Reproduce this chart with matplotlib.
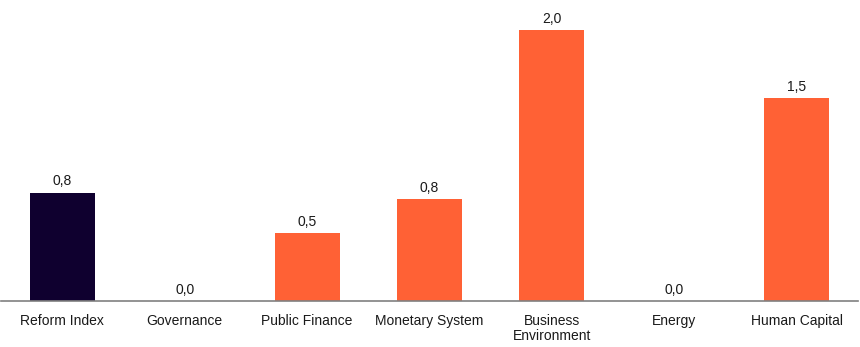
import matplotlib
matplotlib.use("Agg")
import matplotlib.pyplot as plt

categories = ["Reform Index", "Governance", "Public Finance", "Monetary System",
              "Business\nEnvironment", "Energy", "Human Capital"]
values = [0.8, 0.0, 0.5, 0.75, 2.0, 0.0, 1.5]

NAVY = "#0F002F"
ORANGE = "#FF6135"
colors = [NAVY] + [ORANGE] * (len(values) - 1)

plt.rcParams["font.family"] = ["Liberation Sans", "DejaVu Sans"]

W, H = 860, 347
fig = plt.figure(figsize=(W / 100, H / 100), dpi=100)
ax = fig.add_axes([1 / W, 46 / H, 857 / W, 301 / H])

x = list(range(len(categories)))
bars = ax.bar(x, values, width=0.53, color=colors, zorder=2)

ax.set_xlim(-0.5, len(categories) - 0.5)
ax.set_ylim(0, 2.0 * 301 / 271)

for xi, v in zip(x, values):
    ax.annotate(f"{v:.1f}".replace(".", ","), (xi, v), xytext=(0, 3),
                textcoords="offset points", ha="center", va="bottom",
                fontsize=10, color="#1a1a1a")

ax.set_xticks(x)
ax.set_xticklabels(categories, fontsize=10, color="#1a1a1a", linespacing=1.1)
ax.tick_params(axis="x", length=0, pad=9.5)
ax.set_yticks([])

for side in ("top", "right", "left"):
    ax.spines[side].set_visible(False)
ax.spines["bottom"].set_color("#808080")
ax.spines["bottom"].set_linewidth(1.2)

fig.savefig("out.png", dpi=100, facecolor="white")
